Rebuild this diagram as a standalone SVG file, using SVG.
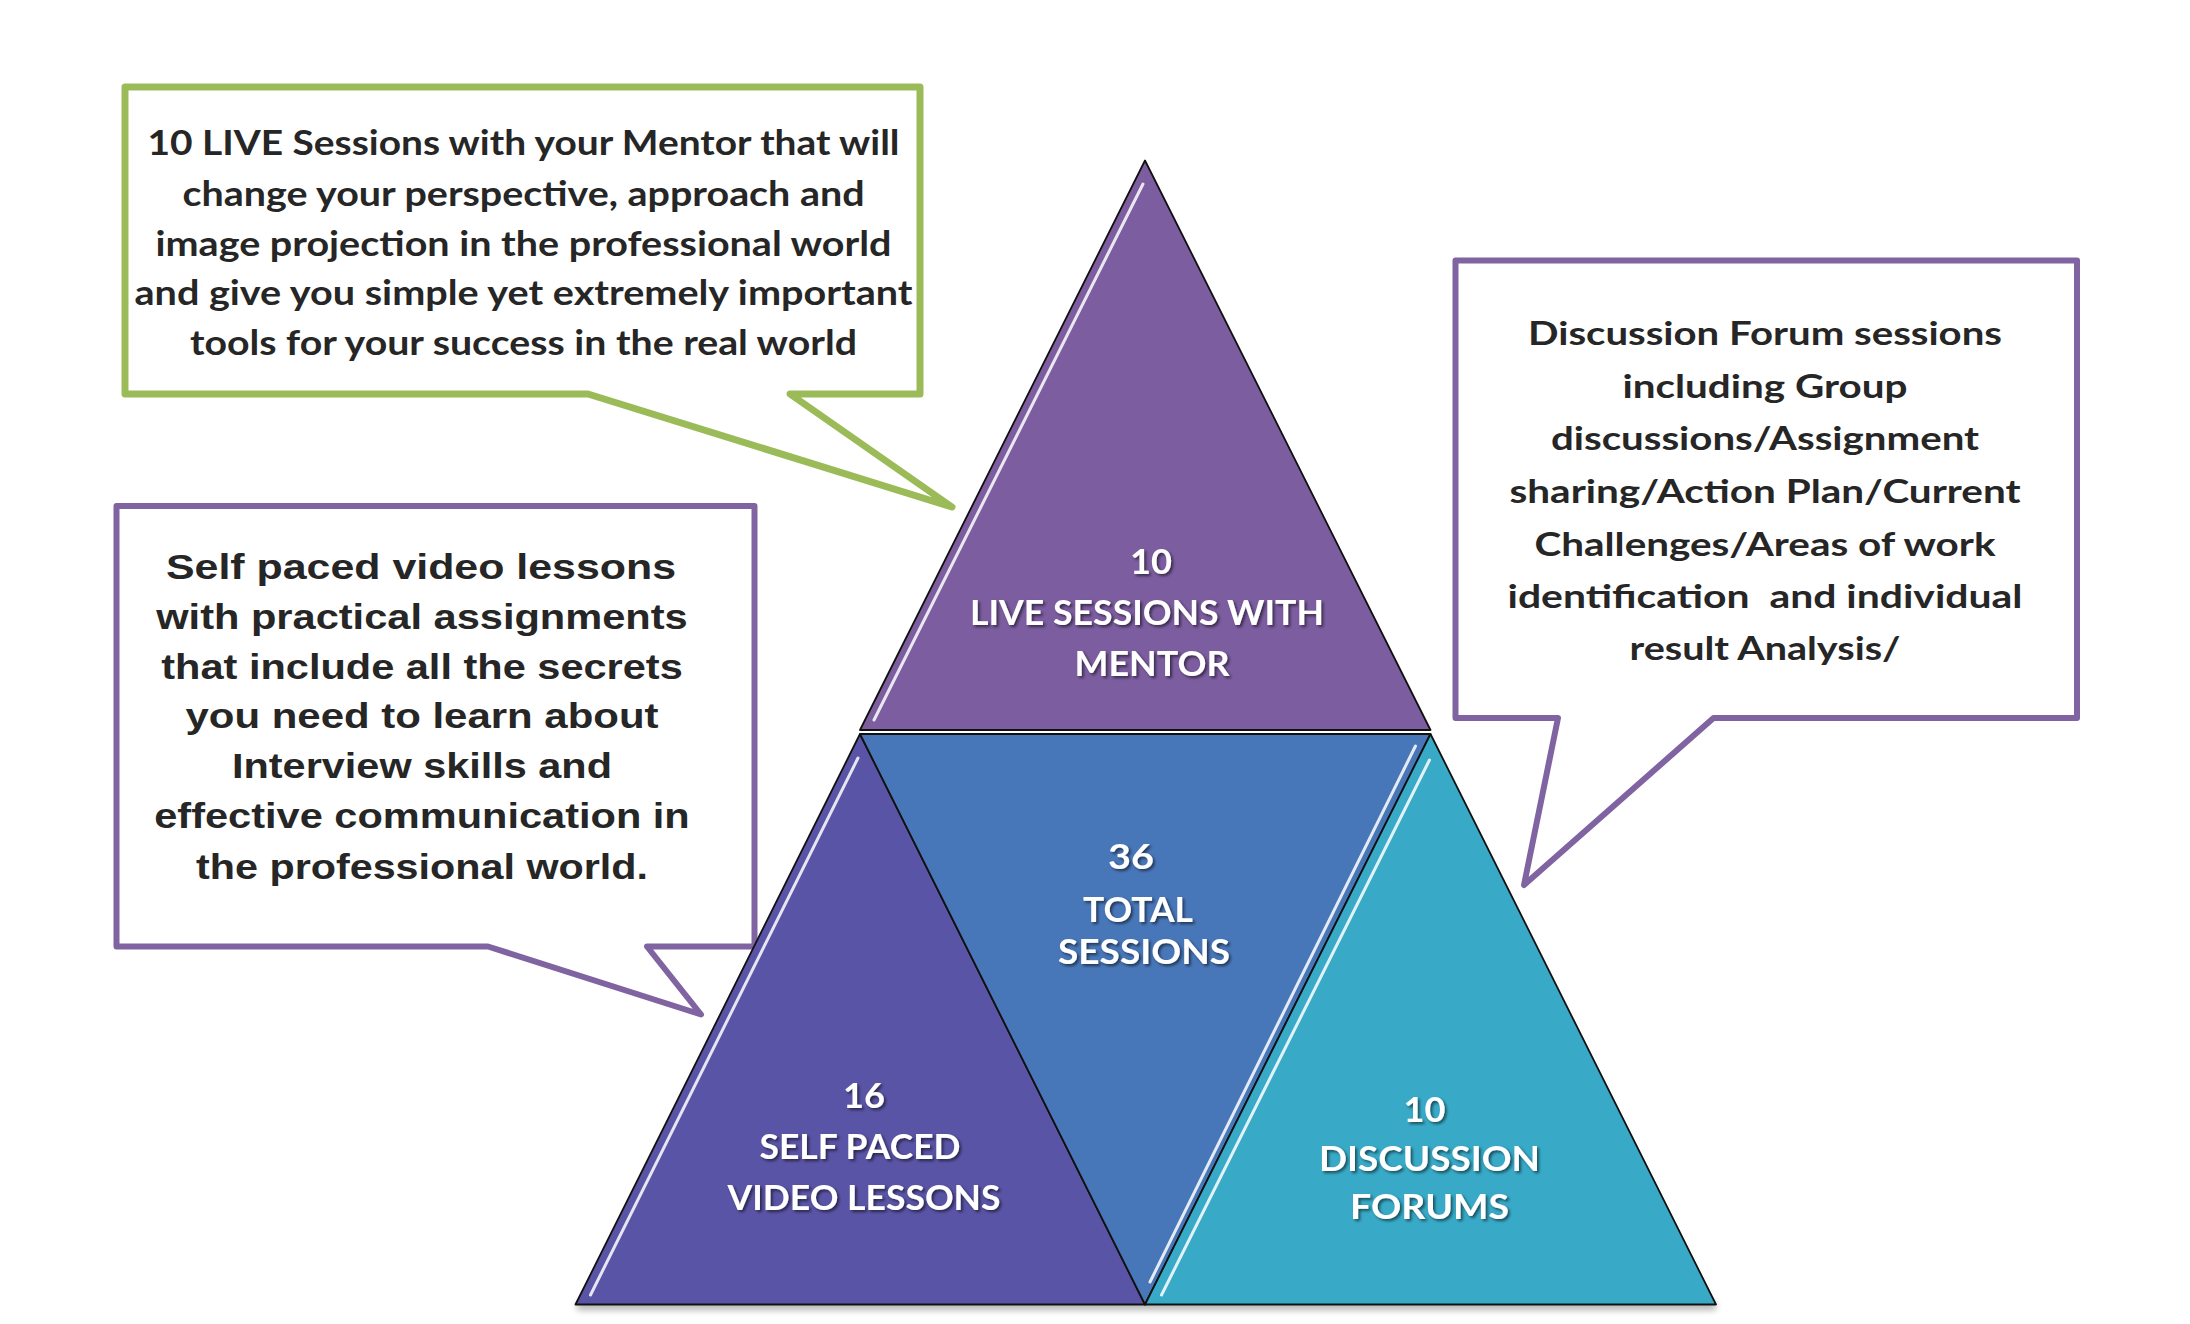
<svg xmlns="http://www.w3.org/2000/svg" width="2190" height="1324" viewBox="0 0 2190 1324">
<defs>
<style>
.callout{fill:#ffffff;stroke-linejoin:round}
.green{stroke:#9BBB59;stroke-width:7}
.purple{stroke:#8064A2;stroke-width:6}
.ct{font-family:Lato,"Open Sans","Liberation Sans",sans-serif;font-weight:700;fill:#262626;text-anchor:middle}
.at{font-family:"Liberation Sans",Arial,sans-serif;font-weight:700;fill:#262626;text-anchor:middle;font-size:35px}
.tri{stroke:#111111;stroke-width:1.8;stroke-linejoin:round}
.hl{fill:none;stroke:#ffffff;stroke-width:3;stroke-linecap:round;opacity:0.85}
.tt{font-family:Lato,"Open Sans","Liberation Sans",sans-serif;font-weight:700;fill:#ffffff;text-anchor:middle;font-size:35px}
</style>
<filter id="ts" x="-20%" y="-40%" width="140%" height="180%">
<feDropShadow dx="2" dy="2" stdDeviation="1.5" flood-color="#000000" flood-opacity="0.55"/>
</filter>
<filter id="blur" x="-10%" y="-200%" width="120%" height="500%">
<feGaussianBlur stdDeviation="3"/>
</filter>
</defs>
<rect width="2190" height="1324" fill="#ffffff"/>

<g id="callout-live">
<path class="callout green" d="M125,87 H920 V394 H790 L952,507 L588,394 H125 Z"/>
<text class="ct" font-size="34" x="523.5" y="154.5" textLength="752" lengthAdjust="spacingAndGlyphs">10 LIVE Sessions with your Mentor that will</text>
<text class="ct" font-size="34" x="523.5" y="205.5" textLength="682" lengthAdjust="spacingAndGlyphs">change your perspective, approach and</text>
<text class="ct" font-size="34" x="523.5" y="255.5" textLength="736" lengthAdjust="spacingAndGlyphs">image projection in the professional world</text>
<text class="ct" font-size="34" x="523.5" y="305" textLength="778" lengthAdjust="spacingAndGlyphs">and give you simple yet extremely important</text>
<text class="ct" font-size="34" x="523.5" y="355" textLength="667" lengthAdjust="spacingAndGlyphs">tools for your success in the real world</text>
</g>

<g id="callout-self">
<path class="callout purple" d="M116.5,506 H754.5 V946.5 H647 L701,1014.5 L488,946.5 H116.5 Z"/>
<text class="at" x="421" y="578.5" textLength="510" lengthAdjust="spacingAndGlyphs">Self paced video lessons</text>
<text class="at" x="422" y="628.5" textLength="531.5" lengthAdjust="spacingAndGlyphs">with practical assignments</text>
<text class="at" x="422" y="678.5" textLength="521.5" lengthAdjust="spacingAndGlyphs">that include all the secrets</text>
<text class="at" x="422" y="728" textLength="473" lengthAdjust="spacingAndGlyphs">you need to learn about</text>
<text class="at" x="422" y="778" textLength="380" lengthAdjust="spacingAndGlyphs">Interview skills and</text>
<text class="at" x="422" y="828" textLength="535.5" lengthAdjust="spacingAndGlyphs">effective communication in</text>
<text class="at" x="422" y="879" textLength="452" lengthAdjust="spacingAndGlyphs">the professional world.</text>
</g>

<g id="callout-forum">
<path class="callout purple" d="M1455.5,260.5 H2077 V718 H1713.5 L1524,885 L1558,718 H1455.5 Z"/>
<text class="ct" font-size="32" x="1765" y="345" textLength="474" lengthAdjust="spacingAndGlyphs">Discussion Forum sessions</text>
<text class="ct" font-size="32" x="1765" y="398" textLength="285" lengthAdjust="spacingAndGlyphs">including Group</text>
<text class="ct" font-size="32" x="1765" y="450" textLength="428" lengthAdjust="spacingAndGlyphs">discussions/Assignment</text>
<text class="ct" font-size="32" x="1765" y="502.5" textLength="511" lengthAdjust="spacingAndGlyphs">sharing/Action Plan/Current</text>
<text class="ct" font-size="32" x="1765" y="555.5" textLength="461" lengthAdjust="spacingAndGlyphs">Challenges/Areas of work</text>
<text class="ct" font-size="32" x="1765" y="607.5" textLength="515" lengthAdjust="spacingAndGlyphs" style="white-space:pre">identification  and individual</text>
<text class="ct" font-size="32" x="1765" y="660" textLength="271" lengthAdjust="spacingAndGlyphs">result Analysis/</text>
</g>

<rect x="577" y="1302" width="1139" height="8" fill="#808080" opacity="0.6" filter="url(#blur)"/>

<g id="tri-live">
<polygon class="tri" fill="#7C5DA0" points="1145,160.5 1430.5,730 860,730"/>
<polyline class="hl" points="1143,184 874,720"/>
<text class="tt" filter="url(#ts)" x="1151" y="573.5" textLength="42" lengthAdjust="spacingAndGlyphs">10</text>
<text class="tt" filter="url(#ts)" x="1147" y="624.5" textLength="354" lengthAdjust="spacingAndGlyphs">LIVE SESSIONS WITH</text>
<text class="tt" filter="url(#ts)" x="1152" y="675.5" textLength="155" lengthAdjust="spacingAndGlyphs">MENTOR</text>
</g>

<g id="tri-self">
<polygon class="tri" fill="#5A54A6" points="860,734 1145,1304.5 575.5,1304.5"/>
<polyline class="hl" points="858,758 590.5,1295"/>
<text class="tt" filter="url(#ts)" x="864" y="1108" textLength="42" lengthAdjust="spacingAndGlyphs">16</text>
<text class="tt" filter="url(#ts)" x="860" y="1159" textLength="201" lengthAdjust="spacingAndGlyphs">SELF PACED</text>
<text class="tt" filter="url(#ts)" x="864" y="1210" textLength="273" lengthAdjust="spacingAndGlyphs">VIDEO LESSONS</text>
</g>

<g id="tri-total">
<polygon class="tri" fill="#4877B9" points="860,734 1430.5,734 1145,1304.5"/>
<polyline class="hl" points="1415.5,746 1150,1282"/>
<text class="tt" filter="url(#ts)" x="1131" y="869" textLength="46" lengthAdjust="spacingAndGlyphs">36</text>
<text class="tt" filter="url(#ts)" x="1138" y="922" textLength="110" lengthAdjust="spacingAndGlyphs">TOTAL</text>
<text class="tt" filter="url(#ts)" x="1144" y="964" textLength="172" lengthAdjust="spacingAndGlyphs">SESSIONS</text>
</g>

<g id="tri-forum">
<polygon class="tri" fill="#38AAC7" points="1430.5,734 1716,1304.5 1145,1304.5"/>
<polyline class="hl" points="1429.5,760 1161.5,1295"/>
<text class="tt" filter="url(#ts)" x="1424.5" y="1122" textLength="42" lengthAdjust="spacingAndGlyphs">10</text>
<text class="tt" filter="url(#ts)" x="1429.5" y="1171" textLength="221" lengthAdjust="spacingAndGlyphs">DISCUSSION</text>
<text class="tt" filter="url(#ts)" x="1429.5" y="1219" textLength="159" lengthAdjust="spacingAndGlyphs">FORUMS</text>
</g>

<g id="connectors"></g>
</svg>
